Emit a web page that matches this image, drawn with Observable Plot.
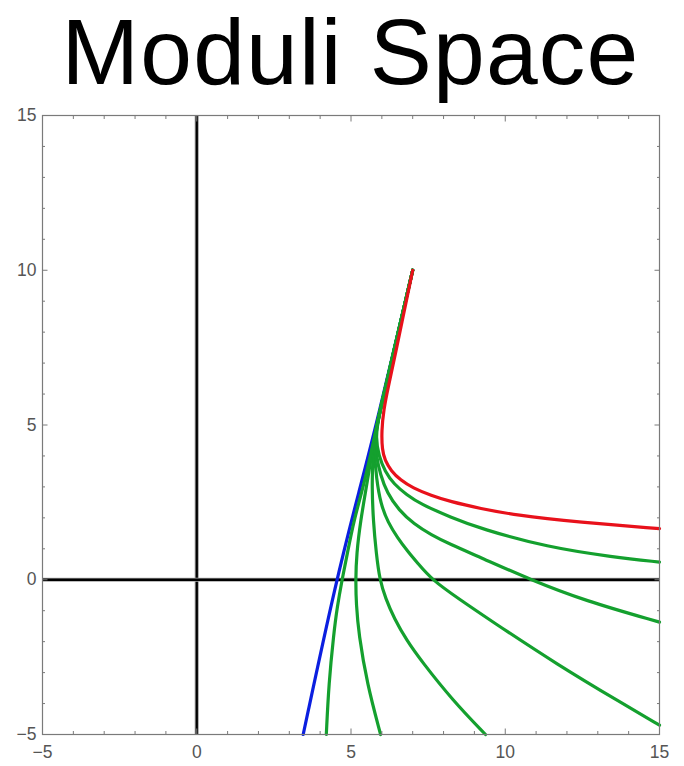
<!DOCTYPE html>
<html><head><meta charset="utf-8">
<script src="https://cdn.jsdelivr.net/npm/d3@7"></script>
<script src="https://cdn.jsdelivr.net/npm/@observablehq/plot@0.6"></script>
<style>
body{margin:0;background:#fff;}
#title{height:105px;width:684px;box-sizing:border-box;padding-left:17px;text-align:center;font-family:"Liberation Sans",Arial,sans-serif;font-size:93px;letter-spacing:1.2px;line-height:105px;color:#000;white-space:nowrap;}
</style></head><body>
<div id="title"></div>
<div id="chart"></div>
<script>
const titleText = "Moduli Space";
const majorTicks = [-5, 0, 5, 10, 15];
const minorTicks = [-4, -3, -2, -1, 1, 2, 3, 4, 6, 7, 8, 9, 11, 12, 13, 14];

const redX = [7.0, 6.42, 6.2, 6.06, 5.99, 6.01, 6.1, 6.3, 6.6, 7.0, 7.6, 8.2, 9.2, 10.3, 12.4, 15.0];
const redY = [10.0, 7.2, 6.2, 5.5, 4.8, 4.2, 3.85, 3.52, 3.22, 2.97, 2.72, 2.53, 2.3, 2.09, 1.86, 1.65];

const blueX = [3.45, 4.52, 5.3, 5.82, 7.0];
const blueY = [-5.0, 0.0, 3.0, 5.0, 10.0];

const green1X = [7.0, 6.3, 5.88, 5.8, 5.9, 6.1, 6.39, 6.8, 7.25, 8.23, 9.2, 11.36, 13.52, 15.0];
const green1Y = [10.0, 7.0, 5.2, 4.6, 4.0, 3.5, 3.09, 2.75, 2.45, 2.02, 1.65, 1.05, 0.73, 0.57];
const green2X = [7.0, 6.3, 5.88, 5.78, 5.82, 5.95, 6.17, 6.55, 7.04, 7.6, 8.2, 9.2, 10.82, 12.55, 15.0];
const green2Y = [10.0, 7.0, 5.2, 4.6, 4.0, 3.4, 2.8, 2.25, 1.8, 1.45, 1.15, 0.72, 0.0, -0.67, -1.37];
const green3X = [7.0, 6.3, 5.88, 5.77, 5.76, 5.82, 5.96, 6.2, 6.5, 6.85, 7.15, 7.62, 8.5, 9.5, 11.7, 13.8, 15.0];
const green3Y = [10.0, 7.0, 5.2, 4.6, 4.1, 3.3, 2.45, 1.85, 1.37, 0.9, 0.55, 0.0, -0.62, -1.3, -2.75, -4.0, -4.7];
const green4X = [7.0, 6.3, 5.88, 5.76, 5.7, 5.68, 5.72, 5.82, 5.93, 6.12, 6.4, 6.8, 7.3, 8.3, 9.36];
const green4Y = [10.0, 7.0, 5.2, 4.6, 3.8, 3.0, 1.91, 0.84, 0.0, -0.6, -1.25, -1.95, -2.65, -3.9, -5.0];
const green5X = [7.0, 6.3, 5.88, 5.76, 5.5, 5.31, 5.18, 5.15, 5.17, 5.25, 5.52, 5.96];
const green5Y = [10.0, 7.0, 5.2, 4.6, 3.0, 1.91, 0.84, 0.0, -0.8, -1.75, -3.36, -5.0];
const green6X = [7.0, 6.3, 5.88, 5.74, 5.4, 5.09, 4.88, 4.71, 4.55, 4.44, 4.28, 4.2];
const green6Y = [10.0, 7.0, 5.2, 4.5, 3.0, 1.91, 0.84, 0.0, -0.9, -1.75, -3.36, -5.0];

const rows = (xs, ys) => xs.map((x, i) => ({x, y: ys[i]}));
const greens = [[green1X, green1Y], [green2X, green2Y], [green3X, green3Y], [green4X, green4Y], [green5X, green5Y], [green6X, green6Y]];

document.getElementById("title").textContent = titleText;

const RED = "#e8111b", GREEN = "#14a02e", BLUE = "#0b1fe0";
const FRAME = "#7a7a7a", LABEL = "#555555";
const lineOpts = {x: "x", y: "y", strokeWidth: 3.2, curve: "basis", strokeLinecap: "round", strokeLinejoin: "round"};

const tickMarks = [];
for (const anchor of ["bottom", "top"]) {
  tickMarks.push(Plot.axisX(minorTicks, {anchor, label: null, tickSize: -3, tickFormat: () => "", stroke: FRAME}));
  tickMarks.push(Plot.axisX(majorTicks, {anchor, label: null, tickSize: -5.5, tickFormat: () => "", stroke: FRAME}));
}
for (const anchor of ["left", "right"]) {
  tickMarks.push(Plot.axisY(minorTicks, {anchor, label: null, tickSize: -3, tickFormat: () => "", stroke: FRAME}));
  tickMarks.push(Plot.axisY(majorTicks, {anchor, label: null, tickSize: -5.5, tickFormat: () => "", stroke: FRAME}));
}

const chart = Plot.plot({
  width: 684, height: 661,
  marginTop: 10, marginBottom: 32, marginLeft: 42, marginRight: 25,
  x: {domain: [-5, 15], axis: null},
  y: {domain: [-5, 15], axis: null},
  style: {fontFamily: "'Liberation Sans', Arial, sans-serif", background: "white"},
  marks: [
    Plot.ruleX([0], {stroke: "#a6a6a6", strokeWidth: 4.2}),
    Plot.ruleX([0], {stroke: "#000", strokeWidth: 2.3}),
    Plot.ruleY([0], {stroke: "#a6a6a6", strokeWidth: 4.2}),
    Plot.ruleY([0], {stroke: "#000", strokeWidth: 2.3}),
    Plot.line(rows(blueX, blueY), {...lineOpts, stroke: BLUE}),
    ...greens.map(([gx, gy]) => Plot.line(rows(gx, gy), {...lineOpts, stroke: GREEN})),
    Plot.line(rows(redX, redY), {...lineOpts, stroke: RED}),
    Plot.frame({stroke: FRAME, strokeWidth: 1.2}),
    ...tickMarks,
    Plot.axisX(majorTicks, {anchor: "bottom", label: null, tickSize: 0, tickPadding: 11, fontSize: 17.5, fill: LABEL}),
    Plot.axisY(majorTicks, {anchor: "left", label: null, tickSize: 0, tickPadding: 6, fontSize: 17.5, fill: LABEL})
  ]
});
document.getElementById("chart").appendChild(chart);
</script>
</body></html>
